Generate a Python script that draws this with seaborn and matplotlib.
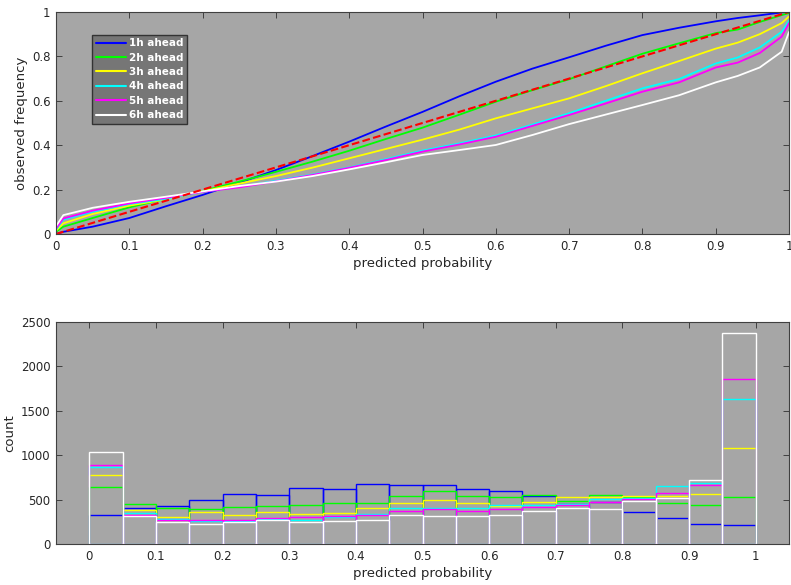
import numpy as np
import pandas as pd
import matplotlib.pyplot as plt
import seaborn as sns
from matplotlib.ticker import FuncFormatter

# --- style: MATLAB-like grey axes ---
sns.set_theme(style="ticks")
plt.rcParams['font.family'] = ['DejaVu Sans']

leads = ['1h ahead', '2h ahead', '3h ahead', '4h ahead', '5h ahead', '6h ahead']
colors = ['#0000ff', '#00ff00', '#ffff00', '#00ffff', '#ff00ff', '#ffffff']

# reliability curves (observed frequency vs predicted probability)
prob = [0, 0.01, 0.05, 0.1, 0.15, 0.2, 0.25, 0.3, 0.35, 0.4, 0.45, 0.5,
        0.55, 0.6, 0.65, 0.7, 0.75, 0.8, 0.85, 0.9, 0.93, 0.96, 0.99, 1.0]
rel_1h = [0.0, 0.01, 0.033, 0.072, 0.125, 0.176, 0.231, 0.288, 0.351, 0.416, 0.484, 0.55,
          0.62, 0.686, 0.745, 0.796, 0.848, 0.896, 0.929, 0.958, 0.973, 0.985, 0.998, 1.0]
rel_2h = [0.01, 0.033, 0.072, 0.12, 0.158, 0.194, 0.236, 0.28, 0.326, 0.375, 0.428, 0.479,
          0.537, 0.596, 0.648, 0.697, 0.755, 0.812, 0.859, 0.905, 0.921, 0.955, 0.986, 0.995]
rel_3h = [0.015, 0.048, 0.09, 0.128, 0.156, 0.192, 0.227, 0.261, 0.299, 0.341, 0.383, 0.425,
          0.47, 0.521, 0.566, 0.611, 0.666, 0.724, 0.779, 0.835, 0.862, 0.9, 0.95, 0.98]
rel_4h = [0.02, 0.065, 0.1, 0.135, 0.158, 0.19, 0.212, 0.24, 0.268, 0.3, 0.337, 0.376,
          0.408, 0.444, 0.493, 0.544, 0.6, 0.656, 0.698, 0.768, 0.795, 0.84, 0.911, 0.96]
rel_5h = [0.025, 0.07, 0.105, 0.138, 0.163, 0.19, 0.21, 0.237, 0.266, 0.298, 0.333, 0.371,
          0.403, 0.438, 0.487, 0.536, 0.588, 0.641, 0.683, 0.75, 0.772, 0.815, 0.889, 0.95]
rel_6h = [0.035, 0.085, 0.118, 0.145, 0.168, 0.192, 0.216, 0.236, 0.261, 0.291, 0.323, 0.356,
          0.378, 0.401, 0.446, 0.495, 0.538, 0.581, 0.625, 0.683, 0.712, 0.75, 0.821, 0.91]
ideal = [0, 1]

# histogram of forecast probabilities (20 bins of width 0.05)
bin_edges = [round(0.05 * i, 2) for i in range(21)]
cnt_1h = [329, 404, 434, 493, 564, 549, 635, 617, 676, 665, 669, 617, 602, 542, 450, 470, 363, 299, 228, 214]
cnt_2h = [643, 456, 411, 393, 415, 426, 441, 460, 467, 542, 602, 542, 531, 553, 490, 556, 535, 460, 438, 527]
cnt_3h = [777, 385, 303, 367, 329, 367, 337, 355, 404, 467, 501, 467, 430, 471, 535, 531, 546, 538, 568, 1080]
cnt_4h = [867, 348, 290, 265, 266, 284, 277, 307, 337, 404, 408, 411, 445, 441, 455, 504, 524, 650, 685, 1636]
cnt_5h = [893, 329, 269, 277, 273, 299, 303, 318, 326, 370, 396, 374, 400, 418, 441, 478, 504, 572, 669, 1860]
cnt_6h = [1031, 314, 255, 228, 247, 269, 247, 262, 269, 326, 318, 314, 326, 370, 404, 393, 482, 516, 718, 2375]

rel_all = [rel_1h, rel_2h, rel_3h, rel_4h, rel_5h, rel_6h]
cnt_all = [cnt_1h, cnt_2h, cnt_3h, cnt_4h, cnt_5h, cnt_6h]
centers = [(a + b) / 2 for a, b in zip(bin_edges[:-1], bin_edges[1:])]

axcol = '#a6a6a6'
edge = '#404040'
txt = '#262626'
fmt = FuncFormatter(lambda v, pos: '%g' % round(v, 2))

fig = plt.figure(figsize=(7.91, 5.85), dpi=100)
ax1 = fig.add_axes([0.0708, 0.600, 0.9267, 0.3795])
ax2 = fig.add_axes([0.0708, 0.0694, 0.9267, 0.381])

# --- top: reliability diagram ---
for lead, col, rel in zip(leads, colors, rel_all):
    sns.lineplot(x=prob, y=rel, color=col, linewidth=1.3, label=lead, ax=ax1)
sns.lineplot(x=ideal, y=ideal, color='red', linewidth=1.5, linestyle='--', ax=ax1)

ax1.set_xlim(0, 1)
ax1.set_ylim(0, 1)
ax1.set_xticks(np.arange(0, 1.01, 0.1))
ax1.set_yticks(np.arange(0, 1.01, 0.2))
ax1.set_xlabel('predicted probability', fontsize=9.5, color=txt, labelpad=3)
ax1.set_ylabel('observed frequency', fontsize=9.5, color=txt, labelpad=3)

leg = ax1.legend(loc='upper left', bbox_to_anchor=(0.049, 0.898),
                 prop={'weight': 'bold', 'size': 7.5}, frameon=True, fancybox=False,
                 facecolor='#767676', edgecolor='#333333', framealpha=1,
                 handlelength=2.9, handletextpad=0.3, labelspacing=0.42,
                 borderpad=0.35, borderaxespad=0)
for t in leg.get_texts():
    t.set_color('white')
for h in leg.get_lines():
    h.set_linewidth(1.5)

# --- bottom: histogram counts ---
for lead, col, cnt in zip(leads, colors, cnt_all):
    hist_df = pd.DataFrame({'p': centers, 'count': cnt})
    sns.histplot(data=hist_df, x='p', weights='count', bins=bin_edges, element='bars',
                 fill=False, color=col, linewidth=1.0, ax=ax2)

ax2.set_xlim(-0.05, 1.05)
ax2.set_ylim(0, 2500)
ax2.set_xticks(np.arange(0, 1.01, 0.1))
ax2.set_yticks(np.arange(0, 2501, 500))
ax2.set_xlabel('predicted probability', fontsize=9.5, color=txt, labelpad=3)
ax2.set_ylabel('count', fontsize=9.5, color=txt, labelpad=3)

for ax in (ax1, ax2):
    ax.set_facecolor(axcol)
    ax.xaxis.set_major_formatter(fmt)
    ax.yaxis.set_major_formatter(fmt)
    ax.tick_params(direction='in', length=4, width=0.7, color=edge, labelcolor=txt,
                   labelsize=8.5, top=True, right=True, pad=4)
    for s in ax.spines.values():
        s.set_visible(True)
        s.set_color(edge)
        s.set_linewidth(0.8)

fig.savefig('out.png', dpi=100)
